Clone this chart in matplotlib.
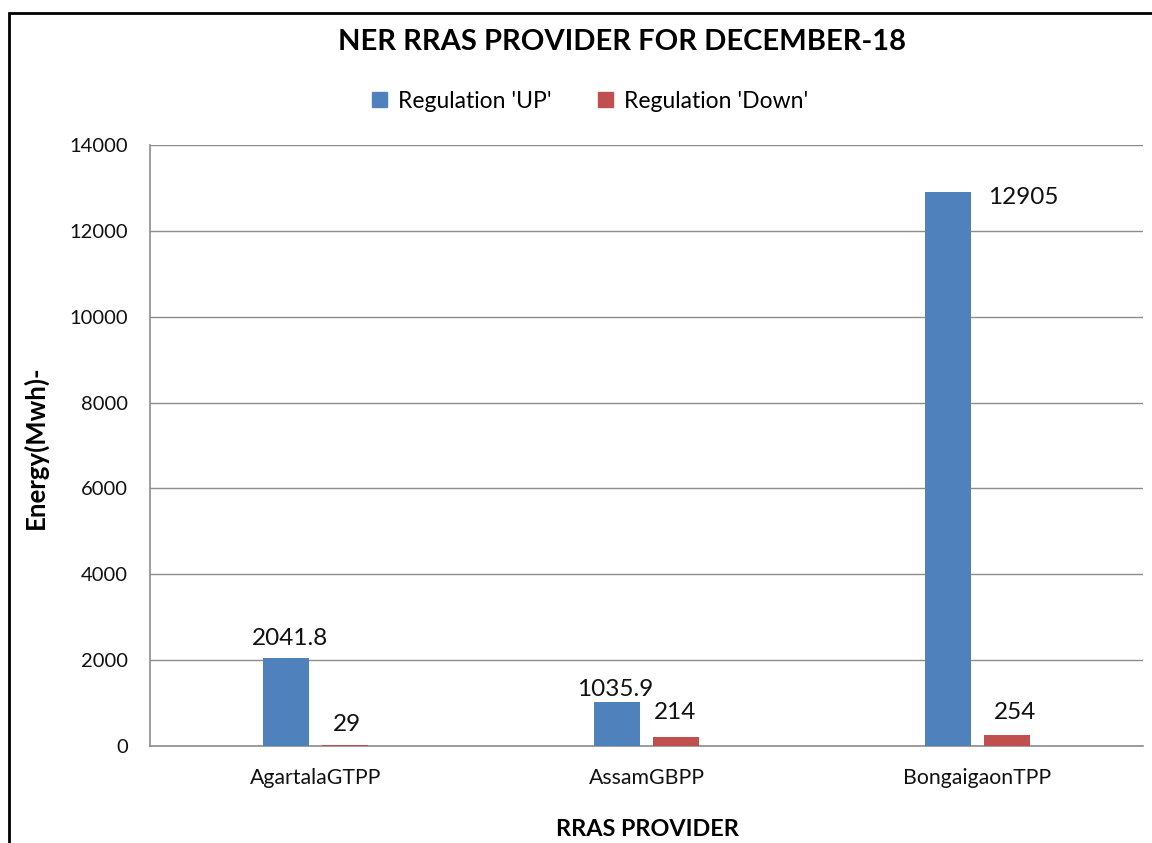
import matplotlib.pyplot as plt
from matplotlib.patches import Patch, Rectangle
import numpy as np

# chart data
providers = ['AgartalaGTPP', 'AssamGBPP', 'BongaigaonTPP']
reg_up = [2041.8, 1035.9, 12905]
reg_down = [29, 214, 254]
up_labels = ['2041.8', '1035.9', '12905']
down_labels = ['29', '214', '254']
yticks = [0, 2000, 4000, 6000, 8000, 10000, 12000, 14000]

BLUE = '#4F81BD'
RED = '#C0504D'
GRID = '#8C8C8C'

plt.rcParams['font.family'] = ['Lato', 'DejaVu Sans']

fig = plt.figure(figsize=(11.52, 8.43), dpi=100)
ax = fig.add_axes([150 / 1152, 97 / 843, 993 / 1152, 601 / 843])

x = np.arange(len(providers))
w = 0.139
off = 0.088
b_up = ax.bar(x - off, reg_up, w, color=BLUE, zorder=3)
b_dn = ax.bar(x + off, reg_down, w, color=RED, zorder=3)

# label offsets in pixels (dx, dy) from bar top, as placed in the original
up_off = [(4, 20), (-2, 12), (75, -5)]
dn_off = [(2, 20), (-1, 24), (8, 23)]
px = 0.72
for rect, lab, (dx, dy) in zip(b_up, up_labels, up_off):
    ax.annotate(lab, (rect.get_x() + rect.get_width() / 2, rect.get_height()),
                xytext=(dx * px, dy * px), textcoords='offset points',
                ha='center', va='center', fontsize=17.5, color='#111111')
for rect, lab, (dx, dy) in zip(b_dn, down_labels, dn_off):
    ax.annotate(lab, (rect.get_x() + rect.get_width() / 2, rect.get_height()),
                xytext=(dx * px, dy * px), textcoords='offset points',
                ha='center', va='center', fontsize=17.5, color='#111111')

ax.set_xlim(-0.5, 2.5)
ax.set_ylim(0, 14000)
ax.set_yticks(yticks)
ax.set_xticks(x)
ax.set_xticklabels(providers)
ax.tick_params(axis='y', length=0, pad=16, labelsize=14.5, labelcolor='#111111')
ax.tick_params(axis='x', length=0, pad=16, labelsize=15.3, labelcolor='#111111')
ax.grid(axis='y', color=GRID, linewidth=1, zorder=0)
for s in ['top', 'right']:
    ax.spines[s].set_visible(False)
for s in ['left', 'bottom']:
    ax.spines[s].set_color(GRID)
    ax.spines[s].set_linewidth(1.2)

# titles
fig.text(622 / 1152, 1 - 42 / 843, 'NER RRAS PROVIDER FOR DECEMBER-18',
         ha='center', va='center', fontsize=21, fontweight='bold')
fig.text(647 / 1152, 1 - 830 / 843, 'RRAS PROVIDER',
         ha='center', va='center', fontsize=16.8, fontweight='bold')
fig.text(35 / 1152, 1 - 447 / 843, 'Energy(Mwh)-', rotation=90,
         ha='center', va='center', fontsize=18.5, fontweight='bold')

patches = [Patch(color=BLUE, label="Regulation 'UP'"),
           Patch(color=RED, label="Regulation 'Down'")]
fig.legend(handles=patches, loc='center', bbox_to_anchor=(590 / 1152, 1 - 101 / 843),
           ncol=2, frameon=False, fontsize=16.5, handlelength=0.65, handleheight=0.65,
           handletextpad=0.5, columnspacing=2.0)

# outer chart border
fig.patches.append(Rectangle((9 / 1152, -0.1), 1.5, 1.1 - 13 / 843, transform=fig.transFigure,
                             fill=False, edgecolor='black', linewidth=2, zorder=10))

fig.savefig('out.png', dpi=100)
